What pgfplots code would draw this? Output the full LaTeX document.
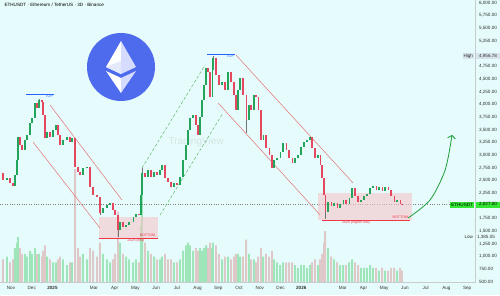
\documentclass[border=0pt]{standalone}
\usepackage{pgfplots}
\pgfplotsset{compat=1.18}
\usepackage{pgfplotstable}
\usepackage{fontspec}
\setmainfont{Liberation Sans}
\usetikzlibrary{arrows.meta}
\definecolor{bg}{HTML}{E6FBFB}
\definecolor{cup}{HTML}{22A45A}
\definecolor{cdn}{HTML}{E5485E}
\definecolor{vup}{HTML}{6FD88E}
\definecolor{vdn}{HTML}{D9A6A6}
\definecolor{chred}{HTML}{E57373}
\definecolor{chgreen}{HTML}{4CAF50}
\definecolor{topblue}{HTML}{2962FF}
\definecolor{botred}{HTML}{F23645}
\definecolor{boxpink}{HTML}{F5C6CB}
\definecolor{ethblue}{HTML}{4F6BED}
\definecolor{ethlight}{HTML}{D5DCFF}
\definecolor{arrowgreen}{HTML}{1E9E3A}
\definecolor{tickgray}{HTML}{333333}
\definecolor{linegray}{HTML}{C8CCD0}
\definecolor{lblgreen}{HTML}{33E633}
\definecolor{lblgray}{HTML}{D6E4EA}
\newcommand\tf{\fontsize{4.6}{5}\selectfont}
\newcommand\smf{\fontsize{3.6}{4}\selectfont}

\pgfplotstableread{
x o c v
-0.19 2511 2551 9
0.19 2393 2610 12
0.29 2610 2905 14
0.34 2905 3359 16
0.68 3103 3300 10
0.77 3300 3398 9
0.92 3398 3635 11
1.01 3635 3733 10
1.16 3733 4029 12
1.35 3931 4088 10
1.74 3339 3457 9
2.03 3359 3497 7
2.17 3497 3595 7
2.51 3201 3300 8
2.70 3300 3359 6
2.94 3260 3339 7
3.47 2610 2748 10
3.67 2748 2767 8
4.44 1861 1960 10
4.63 1960 2019 8
4.78 2019 2058 7
5.26 1526 1684 14
5.55 1585 1625 9
5.69 1625 1684 8
5.89 1684 1782 7
6.03 1782 1841 8
6.27 1822 2216 20
6.32 2216 2649 38
6.61 2570 2708 11
6.90 2570 2669 9
7.19 2610 2708 8
7.28 2708 2807 9
7.86 2373 2452 7
8.15 2413 2570 8
8.30 2570 2905 11
8.44 2905 3201 13
8.54 3201 3497 14
8.63 3497 3733 13
8.78 3733 3792 11
9.12 3398 3753 12
9.21 3753 4088 11
9.31 4088 4384 12
9.41 4384 4719 13
9.70 4147 4679 12
9.74 4679 4916 14
10.18 4384 4443 8
10.47 4285 4640 9
10.95 3891 4285 10
11.05 4285 4522 9
11.48 3694 3990 10
11.72 3891 4187 8
12.16 3300 3398 9
12.69 2748 2905 8
12.83 2905 2945 7
12.98 2945 3063 6
13.12 3063 3240 7
13.70 2846 2945 6
13.84 2945 3004 5
13.99 3004 3162 6
14.13 3162 3260 6
14.28 3260 3300 5
14.42 3300 3359 6
14.81 2945 3004 6
15.29 1880 2078 12
15.58 1999 2058 8
15.87 1960 2039 6
16.02 2039 2117 6
16.31 2039 2157 7
16.45 2157 2354 8
16.88 2078 2117 5
17.03 2117 2196 5
17.17 2196 2235 5
17.32 2235 2354 6
17.46 2354 2393 5
17.75 2314 2373 4
18.04 2295 2373 4
18.62 2078 2117 4
}\up

\pgfplotstableread{
x o c v
-0.39 2649 2511 8
-0.05 2551 2452 7
0.10 2452 2393 8
0.43 3359 3201 12
0.53 3201 3103 10
1.25 4029 3931 10
1.50 4088 4049 9
1.54 4049 3793 11
1.64 3793 3339 13
1.88 3457 3359 8
2.27 3595 3398 8
2.36 3398 3201 9
2.85 3359 3260 7
3.09 3339 2767 40
3.23 2767 2669 12
3.33 2669 2610 9
3.81 2767 2373 12
3.96 2373 2216 11
4.15 2216 2176 9
4.29 2176 1861 14
4.92 2058 1920 8
5.02 1920 1822 10
5.16 1822 1526 25
5.40 1684 1585 10
6.17 1841 1822 7
6.46 2649 2570 14
6.75 2708 2570 10
7.04 2669 2610 8
7.43 2807 2551 10
7.57 2551 2472 8
7.72 2472 2373 8
8.01 2452 2413 7
8.92 3792 3595 12
9.02 3595 3398 11
9.50 4719 4640 12
9.60 4640 4147 14
9.89 4916 4581 13
10.03 4581 4384 10
10.32 4443 4285 9
10.61 4640 4443 8
10.76 4443 4187 9
10.85 4187 3891 10
11.19 4522 4187 9
11.34 4187 3694 15
11.58 3990 3891 8
11.82 4187 4147 7
11.92 4147 3891 9
12.06 3891 3300 12
12.30 3398 3142 10
12.45 3142 3004 9
12.59 3004 2748 11
13.27 3240 3103 7
13.41 3103 2945 7
13.56 2945 2846 7
14.52 3359 3142 7
14.66 3142 2945 8
14.91 3004 2807 8
15.00 2807 2551 10
15.10 2551 2216 14
15.15 2216 1880 18
15.44 2078 1999 9
15.73 2058 1960 7
16.16 2117 2039 6
16.59 2354 2196 7
16.74 2196 2078 6
17.61 2393 2314 5
17.90 2373 2295 5
18.19 2373 2314 4
18.33 2314 2196 5
18.48 2196 2078 5
18.77 2117 2039 5
18.86 2039 2027 4
}\dn

\pgfplotstableread{
x l h
1.35 3931 4107
4.29 1820 2176
5.16 1385 1822
6.32 2216 2738
9.74 4679 4956
11.34 3435 4187
15.15 1747 2216
}\wick

\begin{document}
\begin{tikzpicture}[x=1pt,y=1pt]
\fill[bg] (0,-13) rectangle (500,282);
\pgfplotsset{every axis/.append style={at={(0,0)}, anchor=south west, scale only axis,
  width=475pt, height=282pt, xmin=-0.53, xmax=22.38}}
% volume
\begin{axis}[ymin=0, ymax=100, hide axis, ybar, bar width=1.9pt]
  \addplot[fill=vup, draw=none, fill opacity=0.6, bar shift=0pt] table[x=x,y=v]{\up};
  \addplot[fill=vdn, draw=none, fill opacity=0.6, bar shift=0pt] table[x=x,y=v]{\dn};
\end{axis}
\draw[linegray, line width=0.4pt] (0,0) -- (475,0) -- (475,282);
% price
\begin{axis}[ymin=500, ymax=6059,
  clip=false,
  axis line style={draw=none},
  yticklabel pos=right,
  major tick length=0pt,
  xtick={0,1,2,4,5,6,7,8,9,10,11,12,13,14,16,17,18,19,20,21,22},
  xticklabels={Nov,Dec,\textbf{2025},Mar,Apr,May,Jun,Jul,Aug,Sep,Oct,Nov,Dec,\textbf{2026},Mar,Apr,May,Jun,Jul,Aug,Sep},
  ytick={500,750,1000,1250,1500,1750,2250,2500,2750,3000,3250,3500,3750,4000,4250,4500,4750,5250,5500,5750,6000},
  yticklabel style={font=\tf, text=tickgray, xshift=0.5pt},
  xticklabel style={font=\tf, text=tickgray, yshift=-0.5pt},
  /pgf/number format/.cd, fixed, fixed zerofill, precision=2, 1000 sep={,}, assume math mode=true]
  % watermark
  \node[anchor=west, font=\fontsize{10}{12}\selectfont, text=gray, opacity=0.18] at (axis cs:7.43,3260) {TradingView};
  % current price line
  \addplot[gray, dotted, line width=0.4pt] coordinates {(-0.53,2027) (22.38,2027)};
  % bottom boxes
  \addplot[fill=boxpink, draw=none, fill opacity=0.6] coordinates {(4.24,1368) (7.09,1368) (7.09,1782) (4.24,1782)} -- cycle;
  \addplot[fill=boxpink, draw=none, fill opacity=0.6] coordinates {(14.81,1723) (19.34,1723) (19.34,2255) (14.81,2255)} -- cycle;
  \addplot[botred, line width=0.8pt] coordinates {(4.24,1368) (7.09,1368)};
  \addplot[botred, line width=0.8pt] coordinates {(15.0,1723) (19.25,1723)};
  % channels
  \addplot[chred, line width=0.5pt] coordinates {(1.88,3990) (5.35,2117)};
  \addplot[chred, line width=0.5pt] coordinates {(1.06,3260) (4.29,1565)};
  \addplot[chgreen, densely dashed, line width=0.4pt] coordinates {(6.32,2748) (9.36,4778)};
  \addplot[chgreen, densely dashed, line width=0.4pt] coordinates {(7.19,1822) (10.23,3832)};
  \addplot[chred, line width=0.5pt] coordinates {(10.85,4975) (16.50,2452)};
  \addplot[chred, line width=0.5pt] coordinates {(9.99,4029) (14.91,1822)};
  % top lines
  \addplot[topblue, line width=0.8pt] coordinates {(0.72,4206) (2.07,4206)};
  \addplot[topblue, line width=0.8pt] coordinates {(9.45,4995) (10.80,4995)};
  % candles
  \addplot[black!55, line width=0.35pt, quiver={u=0, v=\thisrow{h}-\thisrow{l}}] table[x=x, y=l]{\wick};
  \addplot[cup, line width=1.2pt, quiver={u=0, v=\thisrow{c}-\thisrow{o}}] table[x=x, y=o]{\up};
  \addplot[cdn, line width=1.2pt, quiver={u=0, v=\thisrow{c}-\thisrow{o}}] table[x=x, y=o]{\dn};
  % green arrow
  \addplot[arrowgreen, line width=0.8pt, smooth, -{Straight Barb[length=3pt,width=8pt]}] coordinates {(19.15,1762) (20.21,2117) (20.94,2709) (21.27,3399)};
  % labels
  \node[anchor=north east, font=\smf, text=topblue, inner sep=0.8pt] at (axis cs:2.07,4206) {TOP};
  \node[anchor=north east, font=\smf, text=topblue, inner sep=0.8pt] at (axis cs:10.80,4995) {TOP};
  \node[anchor=south east, font=\smf, text=botred, inner sep=0.8pt] at (axis cs:7.0,1368) {BOTTOM};
  \node[anchor=south east, font=\smf, text=botred, inner sep=0.8pt] at (axis cs:19.2,1723) {BOTTOM};
  \node[anchor=north, font=\smf\itshape, text=botred, inner sep=1pt] at (axis cs:6.03,1368) {2025 (low)};
  \node[anchor=north, font=\smf\itshape, text=botred, inner sep=1pt] at (axis cs:16.64,1723) {2026 (higher low)};
  % right side labels
  \node[anchor=east, fill=lblgray, font=\tf, text=tickgray, inner sep=1pt, minimum height=6pt] at (axis cs:22.34,4956.78) {High};
  \node[anchor=west, fill=lblgray, font=\tf, text=tickgray, inner sep=1pt, minimum height=6pt, minimum width=24pt] at (axis cs:22.42,4956.78) {4,956.78};
  \node[anchor=east, fill=lblgreen, font=\tf, text=black, inner sep=1pt, minimum height=6pt] at (axis cs:22.34,2027) {ETHUSDT};
  \node[anchor=west, fill=lblgreen, font=\tf, text=black, inner sep=1pt, minimum height=6pt, minimum width=24pt] at (axis cs:22.42,2027) {2,027.00};
  \node[anchor=east, font=\tf, text=tickgray, inner sep=1pt] at (axis cs:22.34,1385.05) {Low};
  \node[anchor=west, fill=bg, font=\tf, text=tickgray, inner sep=1pt] at (axis cs:22.42,1385.05) {1,385.05};
\end{axis}
% title
\node[anchor=west, font=\tf, text=black] at (1,277) {ETHUSDT · Ethereum / TetherUS · 3D · Binance};
% ethereum logo
\fill[ethblue] (121,215) circle[radius=34];
\begin{scope}[shift={(121,215)}]
  \fill[white] (0,26) -- (-15,0) -- (0,-7) -- cycle;
  \fill[ethlight] (0,26) -- (15,0) -- (0,-7) -- cycle;
  \fill[white!85!ethblue] (-15,0) -- (0,6) -- (0,-7) -- cycle;
  \fill[white] (-15,-4) -- (0,-26) -- (0,-11) -- cycle;
  \fill[ethlight] (15,-4) -- (0,-26) -- (0,-11) -- cycle;
\end{scope}
\pgfresetboundingbox
\useasboundingbox (0,-13) rectangle (500,282);
\end{tikzpicture}
\end{document}
